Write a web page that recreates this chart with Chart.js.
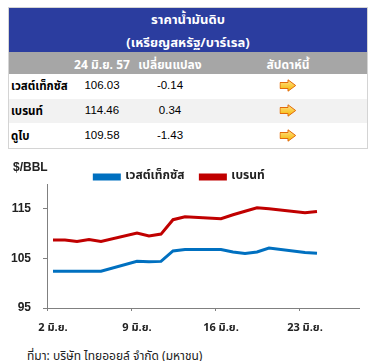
<!DOCTYPE html>
<html>
<head>
<meta charset="utf-8">
<script src="https://cdn.jsdelivr.net/npm/chart.js@4.4.1/dist/chart.umd.min.js"></script>
<style>
  html, body { margin:0; padding:0; background:#fff; }
  body { width:382px; height:361px; position:relative; overflow:hidden; font-family: Tahoma, "Noto Sans Thai", Arial, "Liberation Sans", sans-serif; }
  #tbl { position:absolute; left:8px; top:7px; width:358px; border:1px solid #d4d4d4; }
  .hdr { background:#2B3D9F; color:#fff; font-weight:bold; font-size:13px; text-align:center; height:44px; position:relative; }
  .hdr div { position:absolute; left:0; right:0; }
  .row { position:relative; height:24.7px; font-size:11.5px; }
  .row span { position:absolute; top:50%; transform:translateY(-50%); white-space:nowrap; }
  .gray { background:#A6A6A6; color:#fff; font-weight:bold; height:22px; font-size:12px; }
  .alt { background:#F2F2F2; }
  .c0 { left:2px; font-weight:bold; color:#000; font-size:11.5px; }
  .c1 { left:93px; width:0; } .c1 i, .c2 i, .c3 i { font-style:normal; position:absolute; transform:translateX(-50%); top:-0.6em; }
  .c2 { left:161px; width:0; } .c3 { left:279px; width:0; }
  .num { font-family: Arial, "Liberation Sans", sans-serif; }
  #chartbox { position:absolute; left:0; top:155px; width:382px; height:185px; }
  #src { position:absolute; left:27px; top:347px; font-size:12px; color:#222; white-space:nowrap; }
</style>
</head>
<body>
<div id="tbl">
  <div class="hdr"><div style="top:2px">ราคาน้ำมันดิบ</div><div style="top:25px">(เหรียญสหรัฐ/บาร์เรล)</div></div>
  <div class="row gray"><span class="c1"><i>24 มิ.ย. 57</i></span><span class="c2"><i>เปลี่ยนแปลง</i></span><span class="c3"><i>สัปดาห์นี้</i></span></div>
  <div id="rows"></div>
</div>
<div id="chartbox"><canvas id="c"></canvas></div>
<div id="src">ที่มา: บริษัท ไทยออยล์ จำกัด (มหาชน)</div>
<script>
// ---- table data ----
const tableNames = ['เวสต์เท็กซัส', 'เบรนท์', 'ดูไบ'];
const tablePrices = ['106.03', '114.46', '109.58'];
const tableChanges = ['-0.14', '0.34', '-1.43'];

// ---- chart data ----
const days = [2, 3, 4, 5, 6, 9, 10, 11, 12, 13, 16, 17, 18, 19, 20, 23, 24]; // June 2014
const wti   = [102.4, 102.4, 102.4, 102.4, 102.4, 104.4, 104.3, 104.4, 106.5, 106.8, 106.8, 106.3, 106.0, 106.3, 107.1, 106.2, 106.03];
const brent = [108.7, 108.7, 108.4, 108.8, 108.4, 110.1, 109.5, 109.9, 112.8, 113.4, 113.0, 113.8, 114.5, 115.2, 115.0, 114.2, 114.46];
const seriesNames = ['เวสต์เท็กซัส', 'เบรนท์'];
const yTicks = [95, 105, 115];
const xTickDays = [2, 9, 16, 23];
const monthLabel = 'มิ.ย.';

const arrowSvg = '<svg width="17" height="13" viewBox="0 0 17 13"><defs><linearGradient id="g" x1="0" y1="0" x2="0" y2="1"><stop offset="0" stop-color="#FFE08A"/><stop offset="1" stop-color="#F5B800"/></linearGradient></defs><path d="M0.5 3.5 H8.5 V0.8 L16.2 6.5 L8.5 12.2 V9.5 H0.5 Z" fill="url(#g)" stroke="#E26B0A" stroke-width="1"/></svg>';
const rowsEl = document.getElementById('rows');
tableNames.forEach((n, i) => {
  const r = document.createElement('div');
  r.className = 'row' + (i === 1 ? ' alt' : '');
  r.innerHTML = '<span class="c0">' + n + '</span><span class="c1 num"><i>' + tablePrices[i] + '</i></span><span class="c2 num"><i>' + tableChanges[i] + '</i></span><span class="c3"><i style="top:-7px">' + arrowSvg + '</i></span>';
  rowsEl.appendChild(r);
});

const unitPlugin = {
  id: 'unit',
  afterDraw(chart) {
    const ctx = chart.ctx;
    ctx.save();
    ctx.font = 'bold 12px Arial, "Liberation Sans", sans-serif';
    ctx.fillStyle = '#222';
    ctx.textBaseline = 'middle';
    ctx.fillText('$/BBL', 13, 13);
    ctx.restore();
  }
};

new Chart(document.getElementById('c'), {
  type: 'line',
  data: {
    datasets: [
      { label: seriesNames[0], data: days.map((d, i) => ({ x: d, y: wti[i] })), borderColor: '#0070C0', backgroundColor: '#0070C0', borderWidth: 3, pointRadius: 0, tension: 0 },
      { label: seriesNames[1], data: days.map((d, i) => ({ x: d, y: brent[i] })), borderColor: '#C00000', backgroundColor: '#C00000', borderWidth: 3, pointRadius: 0, tension: 0 }
    ]
  },
  plugins: [unitPlugin],
  options: {
    responsive: true,
    maintainAspectRatio: false,
    animation: false,
    layout: { padding: { left: 0, right: 23, top: 0, bottom: 0 } },
    plugins: {
      tooltip: { enabled: false },
      legend: {
        position: 'top',
        maxHeight: 29,
        labels: { boxWidth: 25, boxHeight: 4, padding: 16, color: '#222', font: { family: 'Tahoma, "Noto Sans Thai", Arial, sans-serif', size: 12, weight: 'bold' } }
      }
    },
    scales: {
      x: {
        type: 'linear', min: 1.5, max: 27.5,
        afterBuildTicks: s => { s.ticks = xTickDays.map(d => ({ value: d - 0.5 })); },
        afterFit: s => { s.height = 32; },
        ticks: { callback: v => (v + 0.5) + ' ' + monthLabel, labelOffset: 6, padding: 11, maxRotation: 0, color: '#222', font: { family: 'Tahoma, "Noto Sans Thai", Arial, sans-serif', size: 11, weight: 'bold' } },
        grid: { drawOnChartArea: false, drawTicks: true, tickLength: 3, color: '#808080' },
        border: { color: '#808080', width: 1 }
      },
      y: {
        min: 95, max: 120,
        afterBuildTicks: s => { s.ticks = yTicks.map(v => ({ value: v })); },
        afterFit: s => { s.width = 47; },
        ticks: { padding: 12, color: '#222', font: { family: 'Arial, "Liberation Sans", sans-serif', size: 12, weight: 'bold' } },
        grid: { drawOnChartArea: false, drawTicks: true, tickLength: 4, color: '#808080' },
        border: { color: '#808080', width: 1 }
      }
    }
  }
});
</script>
</body>
</html>
